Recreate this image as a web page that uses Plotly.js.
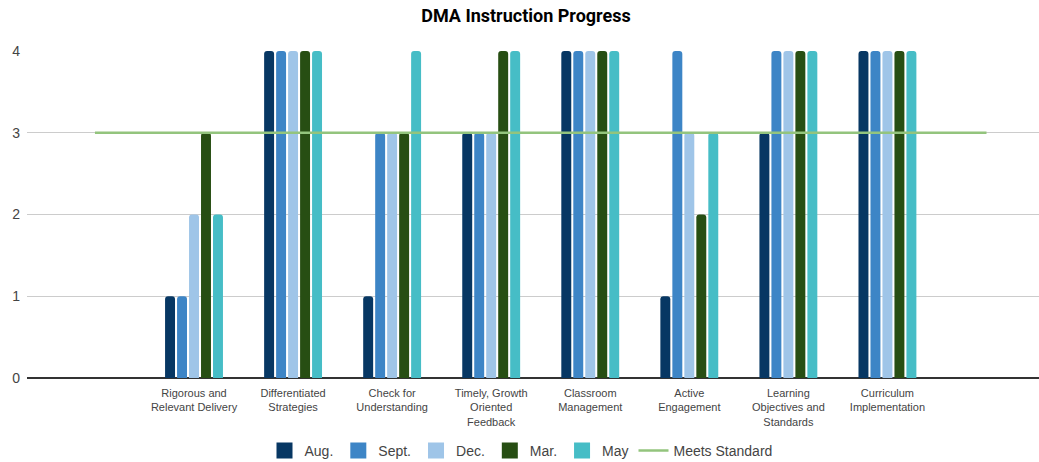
<!DOCTYPE html>
<html>
<head>
<meta charset="utf-8">
<script src="https://cdn.plot.ly/plotly-3.0.1.min.js"></script>
<style>html,body{margin:0;padding:0;background:#fff;}#chart{width:1039px;height:462px;}</style>
</head>
<body>
<div id="chart"></div>
<script>
const categories = [
  "Rigorous and<br>Relevant Delivery",
  "Differentiated<br>Strategies",
  "Check for<br>Understanding",
  "Timely, Growth<br>Oriented<br>Feedback",
  "Classroom<br>Management",
  "Active<br>Engagement",
  "Learning<br>Objectives and<br>Standards",
  "Curriculum<br>Implementation"
];
const seriesNames = ["Aug.", "Sept.", "Dec.", "Mar.", "May"];
const aug  = [1, 4, 1, 3, 4, 1, 3, 4];
const sept = [1, 4, 3, 3, 4, 4, 4, 4];
const dec  = [2, 4, 3, 3, 4, 3, 4, 4];
const mar  = [3, 4, 3, 4, 4, 2, 4, 4];
const may  = [2, 4, 4, 4, 4, 3, 4, 4];
const meetsStandard = 3;
const yTicks = [0, 1, 2, 3, 4];

const colors = ["#073763", "#3d85c6", "#9fc5e8", "#274e13", "#46bdc6"];
const seriesValues = [aug, sept, dec, mar, may];

const xPos = categories.map((c, i) => i + 1);

const traces = seriesValues.map((vals, k) => ({
  type: "bar",
  name: seriesNames[k],
  legendgroup: seriesNames[k],
  showlegend: false,
  x: xPos,
  y: vals,
  marker: { color: colors[k], cornerradius: 3, line: { width: 0 } },
  hoverinfo: "skip"
}));

// legend swatches (square markers, no data points drawn)
seriesNames.forEach((n, k) => {
  traces.push({
    type: "scatter",
    mode: "markers",
    name: n,
    legendgroup: n,
    x: [null],
    y: [null],
    marker: { color: colors[k], symbol: "square", size: 16 },
    hoverinfo: "skip"
  });
});

traces.push({
  type: "scatter",
  mode: "lines",
  name: "Meets Standard",
  x: [0, categories.length + 1],
  y: [meetsStandard, meetsStandard],
  line: { color: "#93c47d", width: 2.5 },
  hoverinfo: "skip"
});

const layout = {
  width: 1039,
  height: 462,
  margin: { l: 27, r: 0, t: 51, b: 84 },
  paper_bgcolor: "#ffffff",
  plot_bgcolor: "#ffffff",
  font: { family: "Arial, 'Liberation Sans', sans-serif", color: "#444444", size: 12 },
  title: {
    text: "<b>DMA Instruction Progress</b>",
    x: 526 / 1039,
    xref: "container",
    xanchor: "center",
    y: 1 - 16 / 462,
    yref: "container",
    yanchor: "middle",
    font: { family: "Roboto, Arial, sans-serif", size: 18, color: "#000000" }
  },
  barmode: "group",
  bargap: 0.395,
  bargroupgap: 0.17,
  xaxis: {
    range: [-0.686, 9.53],
    tickmode: "array",
    tickvals: xPos,
    ticktext: categories,
    showgrid: false,
    zeroline: false,
    showline: false,
    ticks: "",
    ticklabelstandoff: 7,
    tickfont: { family: "Arial, 'Liberation Sans', sans-serif", size: 11, color: "#444444" },
    fixedrange: true
  },
  yaxis: {
    range: [0, 4],
    tickmode: "array",
    tickvals: yTicks,
    ticktext: yTicks.map(String),
    showgrid: true,
    gridcolor: "#cccccc",
    gridwidth: 1,
    zeroline: true,
    zerolinecolor: "#333333",
    zerolinewidth: 1.5,
    showline: false,
    ticks: "",
    ticklabelstandoff: 6,
    tickfont: { family: "Arial, 'Liberation Sans', sans-serif", size: 14, color: "#444444" },
    fixedrange: true
  },
  showlegend: true,
  legend: {
    orientation: "h",
    x: 521 / 1039,
    xanchor: "center",
    xref: "container",
    y: 1 - 451 / 462,
    yref: "container",
    yanchor: "middle",
    font: { family: "Arial, 'Liberation Sans', sans-serif", size: 14, color: "#444444" },
    itemsizing: "trace",
    traceorder: "normal"
  }
};

Plotly.newPlot("chart", traces, layout, { displayModeBar: false, staticPlot: true });
</script>
</body>
</html>
